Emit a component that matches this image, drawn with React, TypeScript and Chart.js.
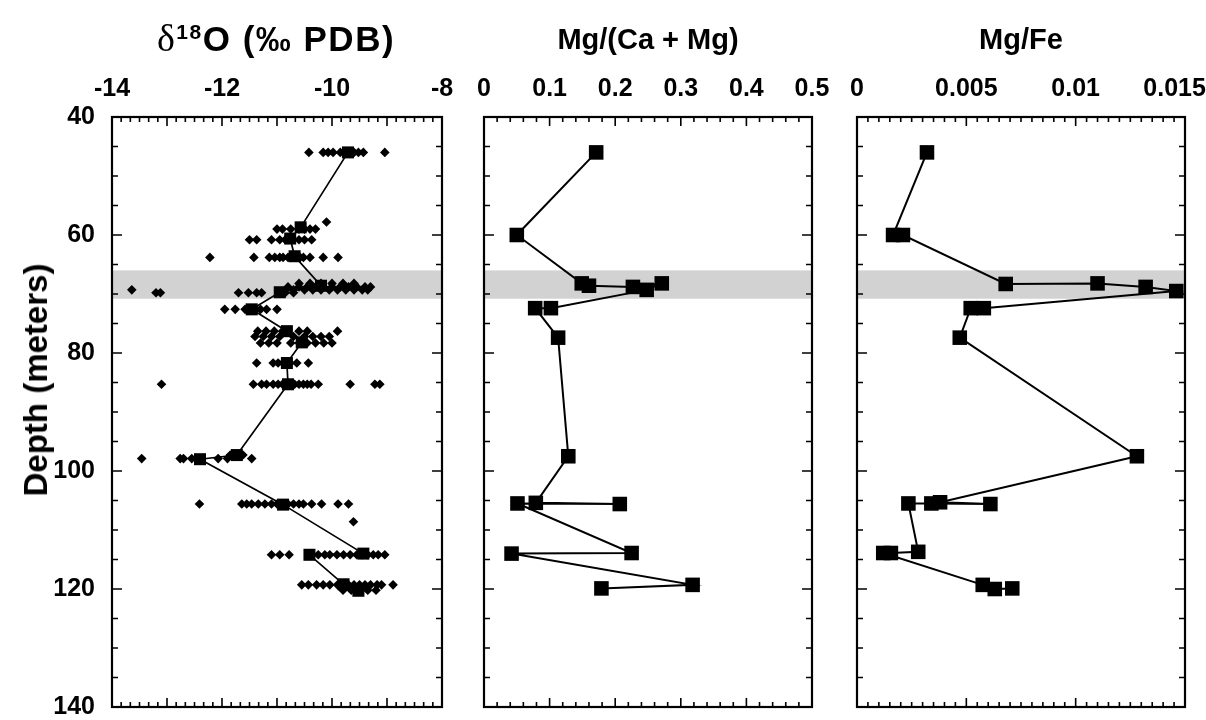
import React, { useEffect, useRef } from 'react';
import { Chart, registerables } from 'chart.js';

Chart.register(...registerables);

// ---------- data ----------
const depthTicks = [40, 60, 80, 100, 120, 140];
const o18Ticks = [-14, -12, -10, -8];
const mgCaTicks = [0, 0.1, 0.2, 0.3, 0.4, 0.5];
const mgFeTicks = [0, 0.005, 0.01, 0.015];
const bandDepths = [66, 70.8];

// individual δ18O analyses, grouped by sampled depth
const o18RowDepths = [46, 57.8, 59, 60.8, 63.8, 68.2, 68.8, 69.3, 69.8, 72.6, 76.3, 77.2, 78.3, 81.7, 85.3, 97.3, 97.9, 105.6, 108.6, 114.2, 119.3, 120.2];
const o18RowValues = [
  [-10.42, -10.16, -10.07, -9.98, -9.85, -9.75, -9.6, -9.52, -9.43, -9.04],
  [-10.1],
  [-11.0, -10.9, -10.75, -10.6, -10.5, -10.4, -10.3],
  [-11.5, -11.37, -11.1, -10.95, -10.85, -10.8, -10.73, -10.6, -10.5, -10.37],
  [-12.22, -11.42, -11.14, -11.04, -10.95, -10.89, -10.8, -10.73, -10.64, -10.58, -10.52, -10.4, -10.16, -9.89],
  [-10.6, -10.4, -10.2, -10.0, -9.8, -9.6],
  [-10.8, -10.6, -10.45, -10.3, -10.15, -10.0, -9.85, -9.7, -9.55, -9.4, -9.3],
  [-13.64, -10.7, -10.5, -10.35, -10.2, -10.05, -9.9, -9.75, -9.6, -9.45, -9.35],
  [-13.2, -13.12, -11.7, -11.52, -11.37, -11.28, -10.85, -10.7],
  [-11.95, -11.76, -11.58, -11.5, -11.38, -11.3, -11.19, -11.0],
  [-11.35, -11.2, -11.05, -10.9, -10.6, -10.45, -9.9],
  [-11.4, -11.25, -11.1, -10.95, -10.7, -10.5, -10.35, -10.2, -10.05],
  [-11.3, -11.15, -11.0, -10.75, -10.6, -10.45, -10.3, -10.15, -10.0],
  [-11.37, -11.07, -10.98, -10.89, -10.8, -10.76, -10.64, -10.43],
  [-13.1, -11.43, -11.28, -11.19, -11.07, -10.98, -10.9, -10.82, -10.75, -10.68, -10.6, -10.52, -10.45, -10.38, -10.25, -9.67, -9.22, -9.13],
  [-11.85, -11.78, -11.7, -11.62],
  [-13.46, -12.76, -12.7, -12.55, -12.07, -11.9, -11.46],
  [-12.41, -11.64, -11.55, -11.46, -11.34, -11.22, -11.1, -11.0, -10.9, -10.8, -10.7, -10.6, -10.52, -10.37, -10.19, -9.89, -9.7],
  [-9.61],
  [-11.1, -10.95, -10.78, -10.25, -10.13, -10.04, -9.91, -9.79, -9.67, -9.55, -9.45, -9.35, -9.25, -9.16, -9.04],
  [-10.55, -10.43, -10.28, -10.16, -10.04, -9.9, -9.8, -9.7, -9.6, -9.5, -9.4, -9.3, -9.18, -9.1, -8.89],
  [-9.8, -9.65, -9.5, -9.35, -9.2],
];

// δ18O averages (connected squares)
const o18MeanDepths = [46, 58.7, 60.6, 63.6, 68.6, 69.7, 72.6, 76.3, 78.2, 81.7, 85.3, 97.3, 98, 105.7, 114.0, 114.2, 119.2, 120.3];
const o18MeanValues = [-9.71, -10.57, -10.76, -10.68, -10.2, -10.95, -11.46, -10.82, -10.55, -10.82, -10.8, -11.73, -12.4, -10.89, -9.43, -10.41, -9.79, -9.52];

// Mg/(Ca + Mg)
const mgCaDepths = [46, 60, 68.2, 68.6, 68.8, 68.2, 69.3, 72.4, 72.4, 77.4, 97.5, 105.4, 105.6, 105.5, 113.9, 114, 119.3, 119.9];
const mgCaValues = [0.171, 0.05, 0.149, 0.16, 0.227, 0.271, 0.248, 0.102, 0.078, 0.113, 0.1285, 0.079, 0.207, 0.051, 0.225, 0.042, 0.318, 0.179];

// Mg/Fe
const mgFeDepths = [46, 60, 60, 68.3, 68.2, 68.8, 69.5, 72.4, 72.4, 77.4, 97.5, 105.3, 105.6, 105.5, 105.5, 113.7, 113.9, 113.9, 119.3, 120, 119.9];
const mgFeValues = [0.0032, 0.00165, 0.0021, 0.0068, 0.011, 0.0132, 0.0146, 0.0058, 0.0052, 0.0047, 0.0128, 0.0038, 0.0061, 0.0034, 0.00235, 0.0028, 0.00155, 0.0012, 0.00575, 0.0063, 0.0071];

// ---------- styling ----------
const FONT = "'Liberation Sans', Arial, Helvetica, sans-serif";
const TICK_FONT = { family: FONT, size: 25, weight: 'bold' as const };
const TOP_H = 117;
const BOTTOM_PAD = 13;

const toPts = (xs: number[], ys: number[]) => xs.map((x, i) => ({ x, y: ys[i] }));

const frameTicks = {
  id: 'frameTicks',
  beforeDatasetsDraw(chart: any) {
    const { ctx, chartArea: a } = chart;
    const y = chart.scales.y;
    const y0 = y.getPixelForValue(bandDepths[0]);
    const y1 = y.getPixelForValue(bandDepths[1]);
    ctx.save();
    ctx.fillStyle = '#d2d2d2';
    ctx.fillRect(a.left, y0, a.right - a.left, y1 - y0);
    ctx.restore();
  },
  afterDatasetsDraw(chart: any, _a: any, opts: any) {
    const { ctx, chartArea: a } = chart;
    const xs = chart.scales.x;
    const ys = chart.scales.y;
    ctx.save();
    ctx.strokeStyle = '#000';
    ctx.lineWidth = 1.6;
    ctx.beginPath();
    const nx = Math.round((opts.xMax - opts.xMin) / opts.xMinor);
    for (let i = 0; i <= nx; i++) {
      const v = opts.xMin + i * opts.xMinor;
      const px = xs.getPixelForValue(v);
      const len = i % opts.xPer === 0 ? 9 : 5;
      ctx.moveTo(px, a.top); ctx.lineTo(px, a.top + len);
      ctx.moveTo(px, a.bottom); ctx.lineTo(px, a.bottom - len);
    }
    const ny = Math.round((140 - 40) / 5);
    for (let i = 0; i <= ny; i++) {
      const v = 40 + i * 5;
      const py = ys.getPixelForValue(v);
      const len = i % 4 === 0 ? 10 : 6;
      ctx.moveTo(a.left, py); ctx.lineTo(a.left + len, py);
      ctx.moveTo(a.right, py); ctx.lineTo(a.right - len, py);
    }
    ctx.stroke();
    ctx.lineWidth = 2.2;
    ctx.strokeRect(a.left, a.top, a.right - a.left, a.bottom - a.top);
    ctx.restore();
  },
};

function makeConfig(opts: {
  datasets: any[];
  xMin: number; xMax: number; xTicks: number[]; xMinor: number; xPer: number;
  fmt: (v: number) => string;
  showY: boolean; padLeft: number; padRight: number;
}) {
  return {
    type: 'scatter' as const,
    data: { datasets: opts.datasets },
    plugins: [frameTicks],
    options: {
      animation: false as const,
      responsive: false,
      maintainAspectRatio: false,
      devicePixelRatio: 1,
      events: [],
      layout: { padding: { left: opts.padLeft, right: opts.padRight, top: 0, bottom: BOTTOM_PAD } },
      plugins: {
        legend: { display: false },
        tooltip: { enabled: false },
        frameTicks: { xMin: opts.xMin, xMax: opts.xMax, xMinor: opts.xMinor, xPer: opts.xPer },
      },
      scales: {
        x: {
          type: 'linear' as const,
          position: 'top' as const,
          min: opts.xMin,
          max: opts.xMax,
          grid: { display: false },
          border: { display: false },
          afterBuildTicks: (s: any) => { s.ticks = opts.xTicks.map((v) => ({ value: v })); },
          afterFit: (s: any) => { s.height = TOP_H; s.paddingLeft = 0; s.paddingRight = 0; },
          ticks: {
            color: '#000', font: TICK_FONT, padding: 5, maxRotation: 0, minRotation: 0,
            autoSkip: false, callback: (v: any) => opts.fmt(Number(v)),
          },
        },
        y: {
          type: 'linear' as const,
          position: 'left' as const,
          reverse: true,
          min: 40,
          max: 140,
          display: opts.showY,
          grid: { display: false },
          border: { display: false },
          afterBuildTicks: (s: any) => { s.ticks = depthTicks.map((v) => ({ value: v })); },
          afterFit: (s: any) => { if (opts.showY) s.width = 112; s.paddingTop = 0; s.paddingBottom = 0; },
          ticks: { color: '#000', font: TICK_FONT, padding: 9, autoSkip: false, callback: (v: any) => String(v) },
        },
      },
    },
  };
}

const lineSet = (pts: any[], r: number, w: number) => ({
  data: pts,
  showLine: true,
  borderColor: '#000',
  borderWidth: w,
  backgroundColor: '#000',
  pointStyle: 'rect',
  pointRadius: r,
  pointBorderWidth: 0,
  pointBackgroundColor: '#000',
  tension: 0,
});

export default function App() {
  const c1 = useRef<HTMLCanvasElement>(null);
  const c2 = useRef<HTMLCanvasElement>(null);
  const c3 = useRef<HTMLCanvasElement>(null);

  useEffect(() => {
    const diamonds = o18RowDepths.flatMap((d, i) => o18RowValues[i].map((v) => ({ x: v, y: d })));
    const ch1 = new Chart(c1.current as any, makeConfig({
      datasets: [
        lineSet(toPts(o18MeanValues, o18MeanDepths), 8.5, 1.7),
        {
          data: diamonds, showLine: false, pointStyle: 'rectRot', pointRadius: 4.8,
          pointBorderWidth: 0, pointBackgroundColor: '#000', backgroundColor: '#000',
        },
      ],
      xMin: -14, xMax: -8, xTicks: o18Ticks, xMinor: 1 / 6, xPer: 6,
      fmt: (v) => String(v), showY: true, padLeft: 0, padRight: 18,
    }) as any);
    const ch2 = new Chart(c2.current as any, makeConfig({
      datasets: [lineSet(toPts(mgCaValues, mgCaDepths), 10.3, 2)],
      xMin: 0, xMax: 0.5, xTicks: mgCaTicks, xMinor: 0.02, xPer: 5,
      fmt: (v) => String(Math.round(v * 10) / 10), showY: false, padLeft: 22, padRight: 22,
    }) as any);
    const ch3 = new Chart(c3.current as any, makeConfig({
      datasets: [lineSet(toPts(mgFeValues, mgFeDepths), 10.3, 2)],
      xMin: 0, xMax: 0.015, xTicks: mgFeTicks, xMinor: 0.0005, xPer: 10,
      fmt: (v) => {
        const s = String(Math.round(v * 1000) / 1000);
        return s === '0.015' ? s + '\u00a0\u00a0\u00a0' : s;
      },
      showY: false, padLeft: 22, padRight: 21,
    }) as any);
    return () => { ch1.destroy(); ch2.destroy(); ch3.destroy(); };
  }, []);

  const titleStyle: React.CSSProperties = {
    position: 'absolute', top: 22, transform: 'translateX(-50%)', fontFamily: FONT,
    fontWeight: 'bold', fontSize: 29, lineHeight: '34px', whiteSpace: 'nowrap', color: '#000',
  };

  return (
    <div style={{ position: 'absolute', left: 0, top: 0, width: 1206, height: 720, background: '#fff', overflow: 'hidden' }}>
      <canvas ref={c1} width={460} height={720} style={{ position: 'absolute', left: 0, top: 0, width: 460, height: 720 }} />
      <canvas ref={c2} width={372} height={720} style={{ position: 'absolute', left: 462, top: 0, width: 372, height: 720 }} />
      <canvas ref={c3} width={371} height={720} style={{ position: 'absolute', left: 835, top: 0, width: 371, height: 720 }} />
      <div style={{ ...titleStyle, left: 276, top: 18, fontSize: 35, lineHeight: '40px', letterSpacing: 1.5 }}>
        <span style={{ fontFamily: "'Liberation Serif', 'Times New Roman', serif", fontWeight: 'normal', fontSize: 38 }}>δ</span>
        <span style={{ fontSize: 21, verticalAlign: 'top', position: 'relative', top: -6 }}>18</span>O (‰ PDB)
      </div>
      <div style={{ ...titleStyle, left: 648 }}>Mg/(Ca + Mg)</div>
      <div style={{ ...titleStyle, left: 1021 }}>Mg/Fe</div>
      <div style={{
        position: 'absolute', left: 36, top: 380, transform: 'translate(-50%, -50%) rotate(-90deg)',
        fontFamily: FONT, fontWeight: 'bold', fontSize: 33, whiteSpace: 'nowrap', color: '#000',
      }}>Depth (meters)</div>
    </div>
  );
}
